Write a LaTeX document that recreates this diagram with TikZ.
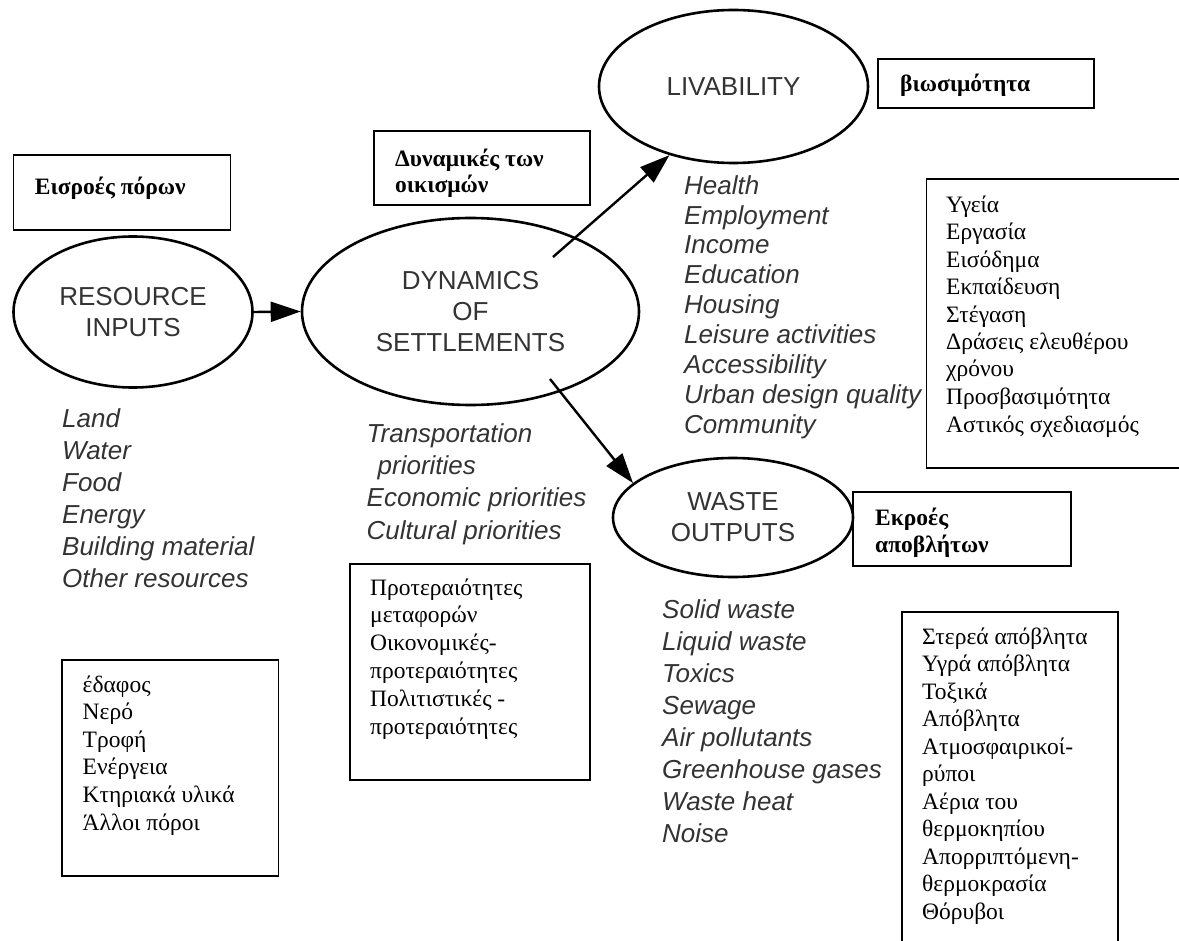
\documentclass[tikz,border=0pt]{standalone}
\usepackage{fontspec}
\setmainfont{Liberation Serif}
\setsansfont{Liberation Sans}
\usetikzlibrary{shapes.geometric,arrows.meta}

\begin{document}
\begin{tikzpicture}[x=1pt,y=-1pt,->,>={Triangle[length=30pt,width=20pt]},line width=2.4pt]
\tikzstyle{oval}=[ellipse,draw,line width=2.6pt,inner sep=0pt,align=center,text=black!80,font=\sffamily\fontsize{26}{31}\selectfont]
\tikzstyle{frame}=[draw,-,line width=1.6pt,inner sep=0pt,anchor=north west]
\tikzstyle{head}=[anchor=base west,inner sep=0pt,align=left,font=\bfseries\fontsize{23.5}{26}\selectfont]
\tikzstyle{greek}=[anchor=base west,inner sep=0pt,align=left,font=\fontsize{23.5}{27.6}\selectfont]
\tikzstyle{items}=[anchor=base west,inner sep=0pt,align=left,text=black!80,font=\sffamily\itshape\fontsize{26}{32}\selectfont]
\useasboundingbox (0,0) rectangle (1179,941);
\clip (0,0) rectangle (1179,941);

% the four stages
\node[oval,minimum width=239pt,minimum height=151pt] (res) at (133,312) {RESOURCE\\INPUTS};
\node[oval,minimum width=337pt,minimum height=187pt] (dyn) at (470.5,311.5) {DYNAMICS\\OF\\SETTLEMENTS};
\node[oval,minimum width=269pt,minimum height=153pt] (liv) at (733.5,86.5) {LIVABILITY};
\node[oval,minimum width=240pt,minimum height=119pt] (waste) at (733,517.5) {WASTE\\OUTPUTS};

% arrows
\coordinate (livfrom) at (553,257);
\coordinate (wastefrom) at (550,379);
\draw (res.east) -- (dyn.west);
\draw (livfrom) -- (liv.227);
\draw (wastefrom) -- (waste.161);

% english lists (placed by the baseline of their last line)
\node[items] (reslist) at (61,587) {Land\\Water\\Food\\Energy\\Building material\\Other resources};
\node[items,font=\sffamily\itshape\fontsize{26}{32.3}\selectfont] (dynlist) at (365.5,539) {Transportation\\\hspace*{11pt}priorities\\Economic priorities\\Cultural priorities};
\node[items,font=\sffamily\itshape\fontsize{26}{30}\selectfont] (livlist) at (683,434) {Health\\Employment\\Income\\Education\\Housing\\Leisure activities\\Accessibility\\Urban design quality\\Community};
\node[items,font=\sffamily\itshape\fontsize{26}{31.9}\selectfont] (wastelist) at (661,842) {Solid waste\\Liquid waste\\Toxics\\Sewage\\Air pollutants\\Greenhouse gases\\Waste heat\\Noise};

% greek boxes
\node[frame,minimum width=217pt,minimum height=75pt] (resbox) at (12.6,154) {};
\node[head] (restitle) at (33.7,195) {Εισροές πόρων};
\node[frame,minimum width=216pt,minimum height=74pt] (dynbox) at (373,130) {};
\node[head] (dyntitle) at (394,193) {Δυναμικές των\\οικισμών};
\node[frame,minimum width=216pt,minimum height=49pt] (livbox) at (877,58) {};
\node[head] (livtitle) at (899,92) {βιωσιμότητα};
\node[frame,minimum width=218pt,minimum height=74pt] (wastebox) at (852,491) {};
\node[head,font=\bfseries\fontsize{23.5}{27}\selectfont] (wastetitle) at (874,552) {Εκροές\\αποβλήτων};

\node[frame,minimum width=280pt,minimum height=289pt] (livgrbox) at (925.7,178) {};
\node[greek,font=\fontsize{23.5}{27.5}\selectfont] (livgr) at (945,432) {Υγεία\\Εργασία\\Εισόδημα\\Εκπαίδευση\\Στέγαση\\Δράσεις ελευθέρου\\χρόνου\\Προσβασιμότητα\\Αστικός σχεδιασμός};
\node[frame,minimum width=216.5pt,minimum height=216pt] (resgrbox) at (61,659) {};
\node[greek] (resgr) at (81.5,830) {έδαφος\\Νερό\\Τροφή\\Ενέργεια\\Κτηριακά υλικά\\Άλλοι πόροι};
\node[frame,minimum width=240pt,minimum height=216pt] (dyngrbox) at (349,563) {};
\node[greek,font=\fontsize{23.5}{27.8}\selectfont] (dyngr) at (369,734) {Προτεραιότητες\\μεταφορών\\Οικονομικές-\\προτεραιότητες\\Πολιτιστικές -\\προτεραιότητες};
\node[frame,minimum width=216pt,minimum height=349pt] (wastegrbox) at (901,611) {};
\node[greek,font=\fontsize{23.5}{27.5}\selectfont] (wastegr) at (921,919) {Στερεά απόβλητα\\Υγρά απόβλητα\\Τοξικά\\Απόβλητα\\Ατμοσφαιρικοί-\\ρύποι\\Αέρια του\\θερμοκηπίου\\Απορριπτόμενη-\\θερμοκρασία\\Θόρυβοι};
\end{tikzpicture}
\end{document}
